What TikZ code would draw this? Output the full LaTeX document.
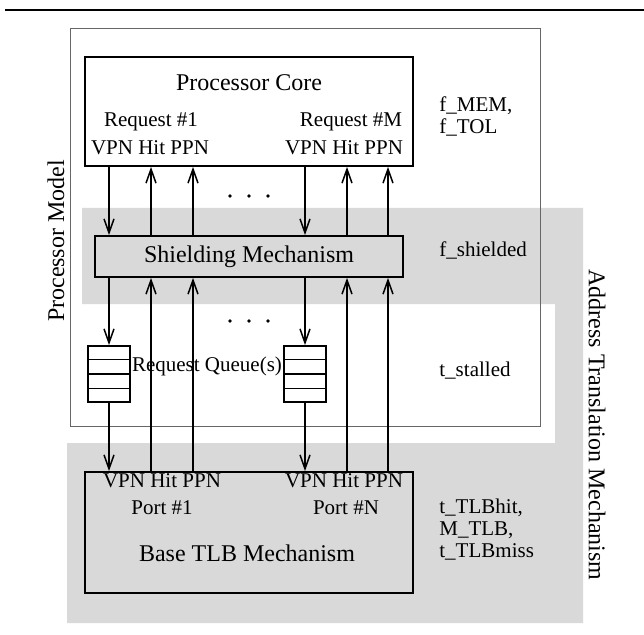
\documentclass[tikz,border=0pt]{standalone}
\usepackage{fontspec}
\setmainfont{Liberation Serif}
\usetikzlibrary{arrows.meta,calc}
\definecolor{bandgray}{RGB}{217,217,217}

\begin{document}
\begin{tikzpicture}[x=0.5bp, y=-0.5bp,
    box/.style={draw, rectangle, line width=0.9bp, inner sep=0pt},
    bigtext/.style={font=\fontsize{12bp}{14bp}\selectfont, inner sep=0pt},
    smalltext/.style={font=\fontsize{10.5bp}{11bp}\selectfont, inner sep=0pt},
    sig/.style={line width=0.75bp, -{Straight Barb[length=7bp,width=5bp]}}]
    \useasboundingbox (0,0) rectangle (644,635);

    % rule at the top of the page
    \draw[line width=1.2bp] (5,10) -- (644,10);

    % shaded address translation part
    \fill[bandgray] (82,208) -- (583,208) -- (583,623) -- (67,623) -- (67,443)
        -- (555,443) -- (555,304) -- (82,304) -- cycle;

    % boxes
    \node[draw=black!60, line width=0.5bp, rectangle, minimum width=234.5bp, minimum height=198.5bp] (model) at (305.5,227.5) {};
    \node[box, minimum width=164bp, minimum height=54.5bp] (core) at (249,111.5) {};
    \node[box, fill=bandgray, minimum width=154bp, minimum height=20.5bp, bigtext] (shield) at (249,256.5) {Shielding Mechanism};
    \node[box, minimum width=164bp, minimum height=60.5bp] (tlb) at (249,532.5) {};
    \node[box, minimum width=21bp, minimum height=28bp] (queueA) at (109,374) {};
    \node[box, minimum width=21bp, minimum height=28bp] (queueM) at (305,374) {};
    \foreach \q in {queueA,queueM} {
        \foreach \f in {0.25,0.5,0.75}
            \draw[line width=0.9bp] ($(\q.north west)!\f!(\q.south west)$) -- ($(\q.north east)!\f!(\q.south east)$);
    }

    % texts inside the boxes
    \node[bigtext] (coretitle) at (249,83) {Processor Core};
    \node[smalltext] (reqA) at (151,122) {Request \#1};
    \node[smalltext] (reqM) at (351,122) {Request \#M};
    \node[smalltext] (coresigA) at (150,148) {VPN Hit PPN};
    \node[smalltext] (coresigM) at (344,148) {VPN Hit PPN};
    \node[smalltext] (queuelabel) at (207,366) {Request Queue(s)};
    \node[smalltext] (tlbsigA) at (162,481) {VPN Hit PPN};
    \node[smalltext] (tlbsigM) at (344,481) {VPN Hit PPN};
    \node[smalltext] (portA) at (162,508) {Port \#1};
    \node[smalltext] (portN) at (346,508) {Port \#N};
    \node[bigtext] (tlbtitle) at (247,553) {Base TLB Mechanism};

    % parameters on the right
    \node[smalltext, align=left, anchor=west] (corepar) at (439,116) {f\_MEM,\\f\_TOL};
    \node[smalltext, anchor=west] (shieldpar) at (439,250) {f\_shielded};
    \node[smalltext, anchor=west] (queuepar) at (439,371) {t\_stalled};
    \node[smalltext, align=left, anchor=west] (tlbpar) at (439,530) {t\_TLBhit,\\M\_TLB,\\t\_TLBmiss};

    % side titles
    \node[bigtext, rotate=90] (modellabel) at (56,241) {Processor Model};
    \node[bigtext, rotate=-90] (atmlabel) at (597,425) {Address Translation Mechanism};

    % signal columns
    \coordinate (vpnA) at (109,0);
    \coordinate (hitA) at (151,0);
    \coordinate (ppnA) at (193,0);
    \coordinate (vpnM) at (305,0);
    \coordinate (hitM) at (347,0);
    \coordinate (ppnM) at (388,0);

    \foreach \col in {vpnA,vpnM}
        \draw[sig] (core.south -| \col) -- (shield.north -| \col);
    \draw[sig] (shield.south -| vpnA) -- (queueA.north);
    \draw[sig] (shield.south -| vpnM) -- (queueM.north);
    \draw[sig] (queueA.south) -- (tlb.north -| vpnA);
    \draw[sig] (queueM.south) -- (tlb.north -| vpnM);
    \foreach \col in {hitA,ppnA,hitM,ppnM} {
        \draw[sig] (shield.north -| \col) -- (core.south -| \col);
        \draw[sig] (tlb.north -| \col) -- (shield.south -| \col);
    }

    % more requests / ports
    \foreach \x in {230,249,268} {
        \fill (\x,196) circle (0.9bp);
        \fill (\x,321) circle (0.9bp);
    }
\end{tikzpicture}
\end{document}
